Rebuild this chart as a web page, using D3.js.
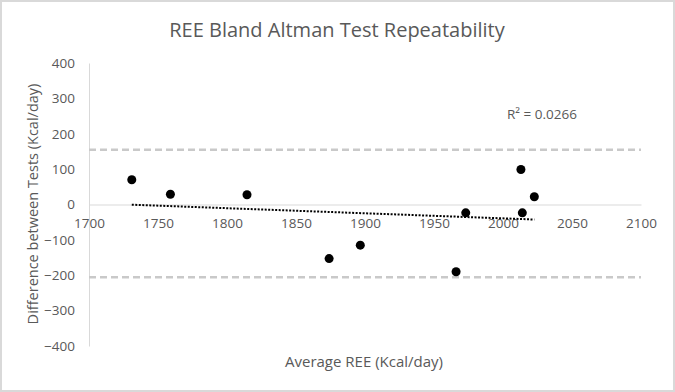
<!DOCTYPE html>
<html>
<head>
<meta charset="utf-8">
<script src="https://cdn.jsdelivr.net/npm/d3@7"></script>
<style>
  body { margin: 0; background: #fff; }
  text { font-family: "Open Sans", sans-serif; fill: #595959; }
</style>
</head>
<body>
<div id="chart"></div>
<script>
// Data
const avgREE = [1731, 1759, 1814.5, 1874, 1896.6, 1966, 1973, 2013, 2014, 2022.7];
const diffREE = [70, 29, 27.5, -153, -115, -190, -23.5, 99, -23.5, 22];
const limits = [155, -206];
const xTicks = [1700, 1750, 1800, 1850, 1900, 1950, 2000, 2050, 2100];
const yTicks = [400, 300, 200, 100, 0, -100, -200, -300, -400];
const r2Label = "R² = 0.0266";

const W = 675, H = 392;

const svg = d3.select("#chart")
    .append("svg")
    .attr("width", W)
    .attr("height", H);

// Outer border
svg.append("rect")
    .attr("x", 1).attr("y", 1)
    .attr("width", W - 2).attr("height", H - 2)
    .attr("fill", "#fff")
    .attr("stroke", "#d9d9d9")
    .attr("stroke-width", 2);

const x = d3.scaleLinear().domain([1700, 2100]).range([89, 641]);
const y = d3.scaleLinear().domain([-400, 400]).range([346, 63]);

// Title
svg.append("text")
    .attr("x", 337).attr("y", 37)
    .attr("text-anchor", "middle")
    .style("font-size", "20px")
    .text("REE Bland Altman Test Repeatability");

// Y axis (line + labels)
const yAxis = svg.append("g")
    .attr("transform", `translate(${x(1700)},0)`)
    .call(d3.axisLeft(y).tickValues(yTicks).tickSize(0).tickPadding(14));
yAxis.select(".domain").attr("stroke", "#d9d9d9");
yAxis.selectAll("text")
    .style("font-size", "13.5px")
    .style("font-family", "'Open Sans', sans-serif")
    .attr("fill", "#595959");

// X axis along zero
const xAxis = svg.append("g")
    .attr("transform", `translate(0,${y(0)})`)
    .call(d3.axisBottom(x).tickValues(xTicks).tickSize(0).tickPadding(14).tickFormat(d3.format("d")));
xAxis.select(".domain").attr("stroke", "#d9d9d9");
xAxis.selectAll("text")
    .style("font-size", "13.5px")
    .style("font-family", "'Open Sans', sans-serif")
    .attr("fill", "#595959");

// Limits of agreement
svg.selectAll(".limit")
    .data(limits)
    .enter()
    .append("line")
    .attr("class", "limit")
    .attr("x1", x(1700)).attr("x2", x(2100))
    .attr("y1", d => y(d)).attr("y2", d => y(d))
    .attr("stroke", "#c9c9c9")
    .attr("stroke-width", 2.5)
    .attr("stroke-dasharray", "7,4");

// Linear trendline (least squares)
const pts = avgREE.map((v, i) => [v, diffREE[i]]);
const mx = d3.mean(avgREE), my = d3.mean(diffREE);
const slope = d3.sum(pts, p => (p[0] - mx) * (p[1] - my)) / d3.sum(pts, p => (p[0] - mx) ** 2);
const fit = v => my + slope * (v - mx);
const [xmin, xmax] = d3.extent(avgREE);
svg.append("line")
    .attr("x1", x(xmin)).attr("y1", y(fit(xmin)))
    .attr("x2", x(xmax)).attr("y2", y(fit(xmax)))
    .attr("stroke", "#000")
    .attr("stroke-width", 2)
    .attr("stroke-dasharray", "2,1.5");

// Points
svg.selectAll(".dot")
    .data(pts)
    .enter()
    .append("circle")
    .attr("class", "dot")
    .attr("cx", d => x(d[0]))
    .attr("cy", d => y(d[1]))
    .attr("r", 4.5)
    .attr("fill", "#000");

// R squared label
svg.append("text")
    .attr("x", 507).attr("y", 119)
    .style("font-size", "13.5px")
    .text(r2Label);

// Axis titles
svg.append("text")
    .attr("x", 364).attr("y", 367)
    .attr("text-anchor", "middle")
    .style("font-size", "15px")
    .text("Average REE (Kcal/day)");

svg.append("text")
    .attr("transform", "translate(38,204) rotate(-90)")
    .attr("text-anchor", "middle")
    .style("font-size", "14.5px")
    .text("Difference between Tests (Kcal/day)");
</script>
</body>
</html>
